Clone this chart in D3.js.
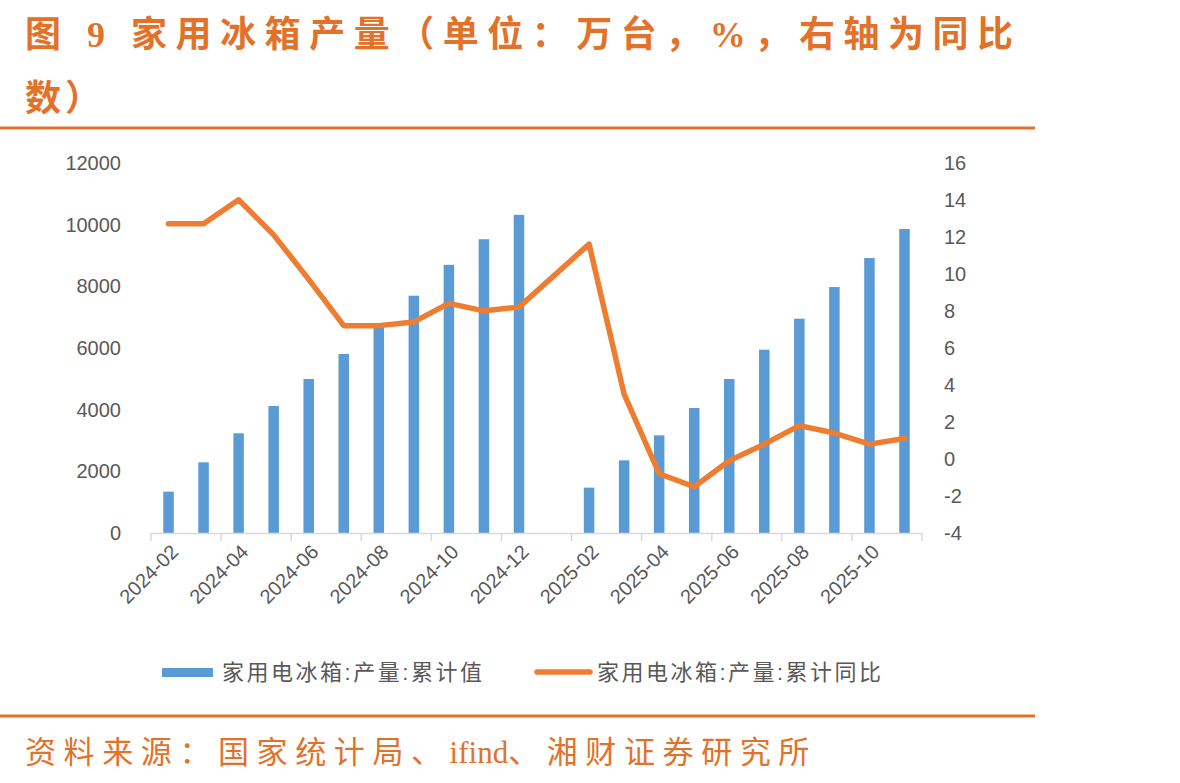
<!DOCTYPE html>
<html>
<head>
<meta charset="utf-8">
<script src="https://cdn.jsdelivr.net/npm/d3@7"></script>
<style>
  body { margin: 0; background: #fff; }
  svg { display: block; }
</style>
</head>
<body>
<div id="chart"></div>
<script>
const months = ['2024-02','2024-03','2024-04','2024-05','2024-06','2024-07','2024-08','2024-09','2024-10','2024-11','2024-12',
  '2025-01','2025-02','2025-03','2025-04','2025-05','2025-06','2025-07','2025-08','2025-09','2025-10','2025-11'];
const cumValue = [1340, 2290, 3230, 4115, 4990, 5800, 6750, 7690, 8690, 9520, 10310,
  null, 1470, 2355, 3165, 4050, 4990, 5940, 6945, 7970, 8910, 9850];
const cumYoy = [12.7, 12.7, 14.0, 12.1, 9.7, 7.2, 7.2, 7.4, 8.4, 8.0, 8.2,
  null, 11.6, 3.5, -0.8, -1.5, -0.1, 0.8, 1.8, 1.4, 0.8, 1.1];
const leftTicks = [0, 2000, 4000, 6000, 8000, 10000, 12000];
const rightTicks = [-4, -2, 0, 2, 4, 6, 8, 10, 12, 14, 16];
const seriesNames = ['家用电冰箱:产量:累计值', '家用电冰箱:产量:累计同比'];
const titleLines = ['图 9 家用冰箱产量（单位：万台，%，右轴为同比', '数）'];
const sourceParts = ['资料来源：国家统计局、', 'ifind', '、湘财证券研究所'];

const W = 1180, H = 783;
const orange = '#E2722A';
const barColor = '#5B9BD5';
const lineColor = '#ED7D31';
const textGray = '#595959';
const axisFont = '"Liberation Sans", "Noto Sans CJK SC", sans-serif';

const svg = d3.select('#chart').append('svg')
  .attr('width', W)
  .attr('height', H);

svg.append('rect').attr('width', W).attr('height', H).attr('fill', '#fff');

// title
const titleFont = '"Liberation Serif", "Noto Sans CJK SC", serif';
svg.append('text')
  .attr('x', 25).attr('y', 47)
  .attr('font-family', titleFont).attr('font-weight', 'bold')
  .attr('font-size', 36).attr('fill', orange)
  .attr('textLength', 988).attr('lengthAdjust', 'spacing')
  .text(titleLines[0]);
svg.append('text')
  .attr('x', 25).attr('y', 111)
  .attr('font-family', titleFont).attr('font-weight', 'bold')
  .attr('font-size', 36).attr('fill', orange)
  .attr('letter-spacing', 4)
  .text(titleLines[1]);

// rules
svg.append('line').attr('x1', 0).attr('x2', 1035).attr('y1', 128).attr('y2', 128)
  .attr('stroke', orange).attr('stroke-width', 3);
svg.append('line').attr('x1', 0).attr('x2', 1035).attr('y1', 716).attr('y2', 716)
  .attr('stroke', orange).attr('stroke-width', 3);

// source
const src = svg.append('text')
  .attr('x', 25).attr('y', 763)
  .attr('font-family', titleFont)
  .attr('font-size', 31).attr('fill', orange);
src.selectAll('tspan')
  .data(sourceParts)
  .join('tspan')
  .attr('letter-spacing', (d, i) => i === 1 ? 0 : 7.6)
  .text(d => d);

// scales
const x = d3.scaleBand()
  .domain(months)
  .range([151, 922])
  .paddingInner(0.7)
  .paddingOuter(0.35);

const yL = d3.scaleLinear().domain([0, 12000]).range([533, 162.7]);
const yR = d3.scaleLinear().domain([-4, 16]).range([533, 162.7]);

// left axis labels
svg.append('g').selectAll('text')
  .data(leftTicks)
  .join('text')
  .attr('x', 121)
  .attr('y', d => yL(d))
  .attr('dy', '0.36em')
  .attr('text-anchor', 'end')
  .attr('font-family', axisFont).attr('font-size', 20)
  .attr('fill', textGray)
  .text(d => d);

// right axis labels
svg.append('g').selectAll('text')
  .data(rightTicks)
  .join('text')
  .attr('x', 944)
  .attr('y', d => yR(d))
  .attr('dy', '0.36em')
  .attr('text-anchor', 'start')
  .attr('font-family', axisFont).attr('font-size', 20)
  .attr('fill', textGray)
  .text(d => d);

// bars
svg.append('g').selectAll('rect')
  .data(months.map((m, i) => ({ m, v: cumValue[i] })).filter(d => d.v != null))
  .join('rect')
  .attr('x', d => x(d.m))
  .attr('width', x.bandwidth())
  .attr('y', d => yL(d.v))
  .attr('height', d => yL(0) - yL(d.v))
  .attr('fill', barColor);

// x axis line + ticks every two months
const step = x.step();
const xAxisG = svg.append('g');
xAxisG.append('line')
  .attr('x1', 151).attr('x2', 922)
  .attr('y1', 533.5).attr('y2', 533.5)
  .attr('stroke', '#D9D9D9').attr('stroke-width', 1.5);
xAxisG.selectAll('line.tick')
  .data(d3.range(0, months.length + 1, 2))
  .join('line')
  .attr('class', 'tick')
  .attr('x1', i => 151 + i * step).attr('x2', i => 151 + i * step)
  .attr('y1', 533).attr('y2', 541)
  .attr('stroke', '#D9D9D9').attr('stroke-width', 1.5);

xAxisG.selectAll('text')
  .data(months.filter((m, i) => i % 2 === 0))
  .join('text')
  .attr('transform', d => `translate(${x(d) + x.bandwidth() / 2 + 6},${548}) rotate(-45)`)
  .attr('text-anchor', 'end')
  .attr('dy', '0.36em')
  .attr('font-family', axisFont).attr('font-size', 20)
  .attr('fill', textGray)
  .text(d => d);

// line (connects across the missing January)
const lineData = months.map((m, i) => ({ m, v: cumYoy[i] })).filter(d => d.v != null);
svg.append('path')
  .datum(lineData)
  .attr('fill', 'none')
  .attr('stroke', lineColor)
  .attr('stroke-width', 5.5)
  .attr('stroke-linejoin', 'round')
  .attr('stroke-linecap', 'round')
  .attr('d', d3.line()
    .x(d => x(d.m) + x.bandwidth() / 2)
    .y(d => yR(d.v)));

// legend
const legend = svg.append('g');
legend.append('rect')
  .attr('x', 162).attr('y', 668).attr('width', 51).attr('height', 9)
  .attr('fill', barColor);
legend.append('text')
  .attr('x', 222).attr('y', 672).attr('dy', '0.36em')
  .attr('font-family', axisFont).attr('font-size', 22)
  .attr('fill', textGray)
  .attr('textLength', 260).attr('lengthAdjust', 'spacing')
  .text(seriesNames[0]);
legend.append('line')
  .attr('x1', 537).attr('x2', 590).attr('y1', 672).attr('y2', 672)
  .attr('stroke', lineColor).attr('stroke-width', 5.5)
  .attr('stroke-linecap', 'round');
legend.append('text')
  .attr('x', 597).attr('y', 672).attr('dy', '0.36em')
  .attr('font-family', axisFont).attr('font-size', 22)
  .attr('fill', textGray)
  .attr('textLength', 284).attr('lengthAdjust', 'spacing')
  .text(seriesNames[1]);
</script>
</body>
</html>
